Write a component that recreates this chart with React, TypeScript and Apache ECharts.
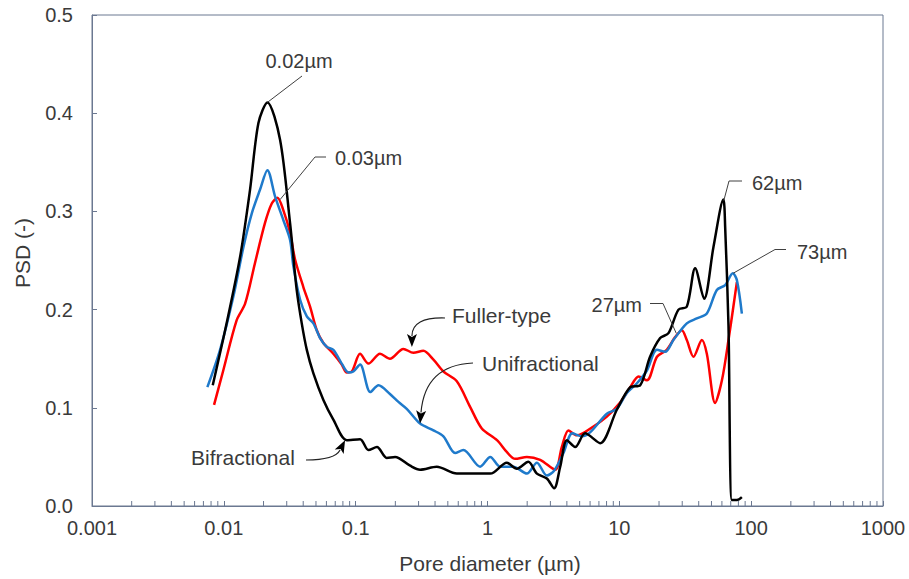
import React, { useEffect, useRef } from "react";
import * as echarts from "echarts";

// ---- Data ----
const bifractional: number[][] = [
  [0.00824, 0.123], [0.0105, 0.186], [0.0133, 0.254], [0.0158, 0.322], [0.0183, 0.39],
  [0.0214, 0.411], [0.0267, 0.373], [0.0318, 0.288], [0.0333, 0.261], [0.0357, 0.22],
  [0.039, 0.186], [0.0426, 0.159], [0.0478, 0.135], [0.0569, 0.108], [0.0677, 0.088],
  [0.0856, 0.067], [0.108, 0.068], [0.125, 0.057], [0.145, 0.06], [0.172, 0.049],
  [0.199, 0.05], [0.259, 0.041], [0.308, 0.037], [0.412, 0.04], [0.585, 0.033],
  [0.782, 0.033], [1.05, 0.033], [1.4, 0.044], [1.67, 0.038], [2.04, 0.045],
  [2.37, 0.033], [2.82, 0.028], [3.2, 0.018], [3.56, 0.04], [4.0, 0.067],
  [4.62, 0.06], [5.5, 0.074], [7.15, 0.064], [9.57, 0.098], [12.1, 0.121],
  [14.4, 0.123], [17.1, 0.152], [20.4, 0.171], [23.6, 0.176], [28.1, 0.2],
  [32.5, 0.203], [37.6, 0.242], [44.0, 0.211], [51.8, 0.264], [61.5, 0.312],
  [63.5, 0.284], [67.3, 0.183], [71.4, 0.006], [77.9, 0.006], [85.0, 0.009],
];

const unifractional: number[][] = [
  [0.0075, 0.121], [0.00936, 0.159], [0.0118, 0.213], [0.0141, 0.264], [0.0163, 0.298],
  [0.0188, 0.322], [0.0214, 0.342], [0.0245, 0.315], [0.0283, 0.291], [0.0318, 0.271],
  [0.0337, 0.244], [0.0379, 0.21], [0.0426, 0.193], [0.0478, 0.186], [0.0537, 0.171],
  [0.0604, 0.162], [0.0677, 0.159], [0.0784, 0.145], [0.0881, 0.136], [0.096, 0.137],
  [0.108, 0.144], [0.129, 0.116], [0.149, 0.123], [0.182, 0.114], [0.211, 0.106],
  [0.244, 0.099], [0.308, 0.084], [0.389, 0.077], [0.463, 0.071], [0.568, 0.054],
  [0.656, 0.057], [0.879, 0.04], [1.05, 0.05], [1.25, 0.04], [1.57, 0.04],
  [1.99, 0.033], [2.37, 0.044], [2.82, 0.031], [3.2, 0.036], [3.77, 0.054],
  [4.4, 0.074], [5.2, 0.071], [6.0, 0.075], [8.04, 0.094], [9.57, 0.099],
  [11.4, 0.115], [13.6, 0.125], [16.2, 0.138], [19.3, 0.159], [22.3, 0.157],
  [25.7, 0.169], [32.5, 0.186], [38.7, 0.191], [46.1, 0.196], [54.9, 0.22],
  [63.5, 0.225], [72.6, 0.237], [77.9, 0.23], [85.0, 0.196],
];

const fullerType: number[][] = [
  [0.00843, 0.103], [0.0099, 0.138], [0.0125, 0.189], [0.0145, 0.206], [0.0172, 0.247],
  [0.0205, 0.288], [0.0231, 0.308], [0.0255, 0.314], [0.0283, 0.301], [0.0318, 0.278],
  [0.0347, 0.251], [0.0401, 0.223], [0.0451, 0.203], [0.0507, 0.179], [0.0569, 0.166],
  [0.0677, 0.155], [0.0784, 0.144], [0.0856, 0.136], [0.0934, 0.137], [0.108, 0.155],
  [0.125, 0.145], [0.153, 0.155], [0.182, 0.15], [0.23, 0.16], [0.274, 0.156],
  [0.326, 0.158], [0.389, 0.149], [0.463, 0.137], [0.585, 0.127], [0.738, 0.101],
  [0.905, 0.079], [1.18, 0.067], [1.4, 0.055], [1.62, 0.048], [1.99, 0.05],
  [2.51, 0.047], [3.26, 0.037], [3.66, 0.06], [4.11, 0.077], [4.76, 0.072],
  [6.36, 0.081], [8.04, 0.091], [10.1, 0.105], [12.1, 0.121], [14.0, 0.132],
  [16.2, 0.128], [19.3, 0.152], [22.9, 0.159], [26.5, 0.172], [29.8, 0.179],
  [32.5, 0.169], [36.5, 0.152], [42.3, 0.169], [46.1, 0.155], [53.3, 0.105],
  [60.0, 0.128], [67.3, 0.169], [77.9, 0.228],
];

const seriesNames = ["Fuller-type", "Unifractional", "Bifractional"];
const xDecades = [0.001, 0.01, 0.1, 1, 10, 100, 1000];
const minorMultipliers = [2, 3, 4, 5, 6, 7, 8, 9];
const yTicks = [0, 0.1, 0.2, 0.3, 0.4, 0.5];

// peak labels: [label, target x, target y]
const peakLabels: [string, number, number][] = [
  ["0.02µm", 0.0214, 0.411],
  ["0.03µm", 0.0267, 0.312],
  ["62µm", 62, 0.311],
  ["73µm", 73, 0.237],
  ["27µm", 27, 0.176],
];
// arrow targets: [label, target x, target y]
const arrowLabels: [string, number, number][] = [
  ["Fuller-type", 0.267, 0.162],
  ["Unifractional", 0.308, 0.084],
  ["Bifractional", 0.0831, 0.067],
];

const AXIS_COLOR = "#6b7891";
const TEXT_COLOR = "#3a3a3a";
const FONT = "Arial, 'Liberation Sans', sans-serif";

export default function App() {
  const ref = useRef<HTMLDivElement>(null);

  useEffect(() => {
    if (!ref.current) return;
    const chart = echarts.init(ref.current, undefined, { renderer: "svg" });

    const minorTicks: number[][] = [];
    xDecades.slice(0, -1).forEach((d) => minorMultipliers.forEach((m) => minorTicks.push([d * m, 0])));

    const lineSeries = (name: string, data: number[][], color: string, z: number) => ({
      name,
      type: "line",
      data,
      smooth: 0.3,
      showSymbol: false,
      lineStyle: { color, width: 2.5 },
      z,
    });

    chart.setOption({
      animation: false,
      backgroundColor: "#ffffff",
      grid: {
        left: 92,
        right: 26,
        top: 15,
        bottom: 73,
        show: true,
        borderColor: AXIS_COLOR,
        borderWidth: 1,
        backgroundColor: "transparent",
      },
      xAxis: {
        type: "log",
        logBase: 10,
        min: xDecades[0],
        max: xDecades[xDecades.length - 1],
        interval: 1,
        splitNumber: 6,
        axisLine: { show: true, lineStyle: { color: AXIS_COLOR, width: 1 } },
        axisTick: { show: true, inside: true, length: 5, lineStyle: { color: AXIS_COLOR } },
        splitLine: { show: false },
        axisLabel: {
          color: TEXT_COLOR,
          fontSize: 20,
          fontFamily: FONT,
          margin: 12,
          formatter: (v: number) => String(Number(v.toPrecision(6))),
        },
      },
      yAxis: {
        type: "value",
        min: yTicks[0],
        max: yTicks[yTicks.length - 1],
        interval: 0.1,
        axisLine: { show: true, lineStyle: { color: AXIS_COLOR, width: 1 } },
        axisTick: { show: true, inside: true, length: 5, lineStyle: { color: AXIS_COLOR } },
        splitLine: { show: false },
        axisLabel: {
          color: TEXT_COLOR,
          fontSize: 20,
          fontFamily: FONT,
          margin: 19,
          formatter: (v: number) => v.toFixed(1),
        },
      },
      series: [
        {
          type: "custom",
          name: "minorTicks",
          silent: true,
          z: 5,
          data: minorTicks,
          renderItem: (params: any, api: any) => {
            const p = api.coord([api.value(0), 0]);
            return {
              type: "line",
              shape: { x1: p[0], y1: p[1], x2: p[0], y2: p[1] - 5 },
              style: { stroke: AXIS_COLOR, lineWidth: 1 },
            };
          },
        },
        lineSeries(seriesNames[0], fullerType, "#ff0000", 2),
        lineSeries(seriesNames[1], unifractional, "#1f7acb", 3),
        lineSeries(seriesNames[2], bifractional, "#000000", 4),
      ],
    });

    const px = (x: number, y: number): number[] =>
      chart.convertToPixel({ xAxisIndex: 0, yAxisIndex: 0 }, [x, y]) as number[];

    const lineStyle = { stroke: "#404040", lineWidth: 1, fill: null };
    const textEl = (text: string, x: number, y: number, align: string, size = 20, rotation = 0) => ({
      type: "text",
      x,
      y,
      rotation,
      z: 100,
      style: {
        text,
        fill: TEXT_COLOR,
        font: `${size}px ${FONT}`,
        align,
        textAlign: align,
        verticalAlign: "middle",
        textVerticalAlign: "middle",
      },
    });

    const graphics: any[] = [];
    // axis titles
    graphics.push(textEl("PSD (-)", 22, 253, "center", 21, Math.PI / 2));
    graphics.push(textEl("Pore diameter (µm)", 490, 563, "center", 21));

    // peak labels with leaders
    const [l02, l03, l62, l73, l27] = peakLabels;
    {
      const t = px(l02[1], l02[2]);
      graphics.push({ type: "polyline", z: 90, shape: { points: [t, [302, 76]] }, style: lineStyle });
      graphics.push(textEl(l02[0], 299, 61, "center"));
    }
    {
      const t = px(l03[1], l03[2]);
      graphics.push({ type: "polyline", z: 90, shape: { points: [t, [315, 157], [326, 157]] }, style: lineStyle });
      graphics.push(textEl(l03[0], 335, 158, "left"));
    }
    {
      const t = px(l62[1], l62[2]);
      graphics.push({ type: "polyline", z: 90, shape: { points: [t, [729, 181], [742, 181]] }, style: lineStyle });
      graphics.push(textEl(l62[0], 752, 183, "left"));
    }
    {
      const t = px(l73[1], l73[2]);
      graphics.push({ type: "polyline", z: 90, shape: { points: [t, [775, 249.5], [786, 249.5]] }, style: lineStyle });
      graphics.push(textEl(l73[0], 797, 252, "left"));
    }
    {
      const t = px(l27[1], l27[2]);
      graphics.push({ type: "polyline", z: 90, shape: { points: [t, [663, 303.5], [650, 303.5]] }, style: lineStyle });
      graphics.push(textEl(l27[0], 642, 305, "right"));
    }

    // curved arrows
    const arrow = (p0: number[], p1: number[], tip: number[]) => {
      const dx = tip[0] - p1[0];
      const dy = tip[1] - p1[1];
      const len = Math.hypot(dx, dy) || 1;
      const ux = dx / len;
      const uy = dy / len;
      const nx = -uy;
      const ny = ux;
      const L = 13;
      const W = 10;
      const bx = tip[0] - ux * L;
      const by = tip[1] - uy * L;
      graphics.push({
        type: "bezierCurve",
        z: 90,
        shape: { x1: p0[0], y1: p0[1], cpx1: p1[0], cpy1: p1[1], x2: bx + ux * 2, y2: by + uy * 2 },
        style: { stroke: "#222", lineWidth: 1.2, fill: null },
      });
      graphics.push({
        type: "polygon",
        z: 91,
        shape: {
          points: [
            [tip[0], tip[1]],
            [bx + (nx * W) / 2, by + (ny * W) / 2],
            [bx + ux * 3, by + uy * 3],
            [bx - (nx * W) / 2, by - (ny * W) / 2],
          ],
        },
        style: { fill: "#000" },
      });
    };
    const [aF, aU, aB] = arrowLabels;
    arrow([445, 318], [412, 317], px(aF[1], aF[2]));
    graphics.push(textEl(aF[0], 452, 315, "left", 21));
    arrow([473, 363], [425, 365], px(aU[1], aU[2]));
    graphics.push(textEl(aU[0], 482, 363, "left", 21));
    arrow([306, 460], [335, 460], px(aB[1], aB[2]));
    graphics.push(textEl(aB[0], 191, 457, "left", 21));

    chart.setOption({ graphic: graphics });

    return () => chart.dispose();
  }, []);

  return (
    <div
      ref={ref}
      style={{ position: "fixed", left: 0, top: 0, width: 909, height: 579, background: "#fff" }}
    />
  );
}
